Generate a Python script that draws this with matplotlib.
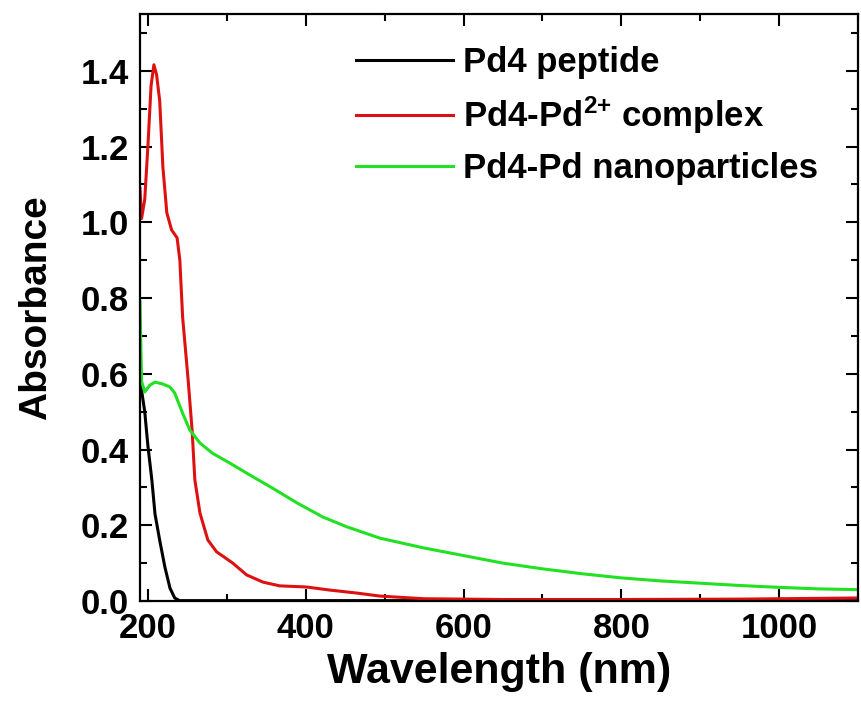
import numpy as np
import matplotlib.pyplot as plt
from matplotlib.ticker import MultipleLocator

plt.rcParams['font.family'] = ['Liberation Sans', 'DejaVu Sans']
plt.rcParams['font.weight'] = 'bold'
plt.rcParams['mathtext.fontset'] = 'custom'
plt.rcParams['mathtext.rm'] = 'Liberation Sans:bold'
plt.rcParams['mathtext.bf'] = 'Liberation Sans:bold'
plt.rcParams['mathtext.it'] = 'Liberation Sans:bold'

#--- data -------------------------------------------------
pep_wl  = [190, 196, 200, 205, 209, 215, 221.5, 228, 234, 240, 300, 500, 800, 1100]
pep_abs = [0.584, 0.50, 0.41, 0.32, 0.23, 0.16, 0.09, 0.034, 0.008, 0.001, 0.001, 0.001, 0.001, 0.001]

cpx_wl  = [190, 192, 196, 200, 204, 207.6, 211, 215, 219, 224, 230, 237, 240.5, 244,
           251, 256, 259.5, 266, 276, 287, 307.6, 325, 345.6, 367, 401, 430, 464.5,
           494, 550, 650, 800, 950, 1050, 1100]
cpx_abs = [1.09, 1.01, 1.06, 1.20, 1.36, 1.416, 1.39, 1.32, 1.146, 1.025, 0.98, 0.959, 0.90, 0.75,
           0.584, 0.452, 0.32, 0.232, 0.161, 0.13, 0.10, 0.069, 0.050, 0.040, 0.037, 0.029, 0.021,
           0.013, 0.006, 0.004, 0.004, 0.005, 0.007, 0.008]

np_wl  = [190, 192, 196, 202.5, 209, 219, 228, 234, 244, 253, 266, 282, 304, 329, 358,
          389, 421.5, 452, 494, 550, 600, 650, 700, 750, 800, 850, 900, 950, 1000, 1050, 1100]
np_abs = [0.79, 0.58, 0.552, 0.57, 0.578, 0.573, 0.565, 0.549, 0.496, 0.452, 0.417, 0.39, 0.364,
          0.333, 0.298, 0.259, 0.222, 0.196, 0.166, 0.14, 0.12, 0.10, 0.085, 0.072, 0.061,
          0.053, 0.047, 0.041, 0.036, 0.032, 0.03]

labels = ['Pd4 peptide', r'Pd4-Pd$^{2{+}}$ complex', 'Pd4-Pd nanoparticles']
colors = ['#000000', '#dd1111', '#22e022']
#----------------------------------------------------------
def f_00():
	fig = plt.figure(figsize=(8.61, 7.11), dpi=100)
	ax = fig.add_axes([0.1626, 0.1547, 0.834, 0.8256])

	ax.plot(pep_wl, pep_abs, color=colors[0], lw=2.2, label=labels[0])
	ax.plot(cpx_wl, cpx_abs, color=colors[1], lw=2.2, label=labels[1])
	ax.plot(np_wl, np_abs, color=colors[2], lw=2.2, label=labels[2])

	ax.set_xlim(190, 1100)
	ax.set_ylim(0, 1.55)
	ax.xaxis.set_major_locator(MultipleLocator(200))
	ax.xaxis.set_minor_locator(MultipleLocator(100))
	ax.yaxis.set_major_locator(MultipleLocator(0.2))
	ax.yaxis.set_minor_locator(MultipleLocator(0.1))
	ax.yaxis.set_major_formatter(plt.FormatStrFormatter('%.1f'))

	#frame customization
	for s in ax.spines.values():
		s.set_linewidth(1.6)
	ax.tick_params(axis='both', which='both', direction='in',
			top=True, right=True, width=1.5)
	ax.tick_params(which='major', length=8.6, labelsize=25)
	ax.tick_params(which='minor', length=5)
	ax.tick_params(axis='x', pad=8)
	ax.tick_params(axis='y', pad=8)

	ax.set_xlabel('Wavelength (nm)', fontsize=31, fontweight='bold', labelpad=5)
	ax.set_ylabel('Absorbance', fontsize=28, fontweight='bold', labelpad=19)

	ax.legend(loc='upper left', bbox_to_anchor=(0.413, 0.935),
			bbox_transform=fig.transFigure, frameon=False,
			fontsize=25, handlelength=2.8, handletextpad=0.3,
			labelspacing=0.45, borderpad=0, borderaxespad=0)

	fig.savefig('out.png', dpi=100)
#----------------------------------------------------------
if __name__=='__main__':
	f_00()
